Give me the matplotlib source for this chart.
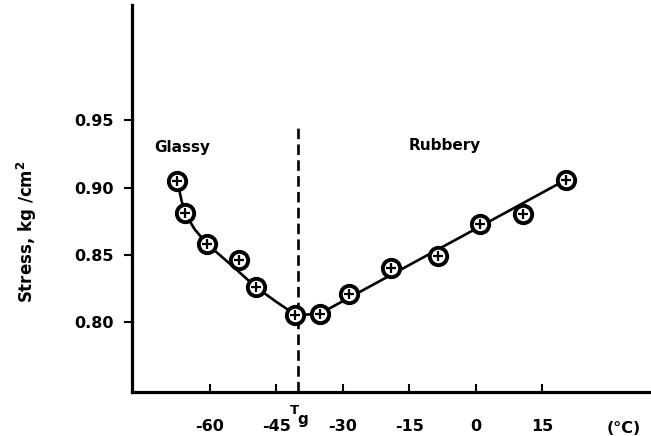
import matplotlib
matplotlib.use("Agg")
import matplotlib.pyplot as plt
import matplotlib.transforms as mtransforms

# Measured data points (temperature °C, stress kg/cm^2)
temp = [-67.3, -65.6, -60.6, -53.4, -49.6, -40.7, -35.2, -28.6, -19.0, -8.4, 1.0, 10.6, 20.5]
stress = [0.905, 0.881, 0.858, 0.846, 0.826, 0.805, 0.806, 0.821, 0.840, 0.849, 0.873, 0.880, 0.906]

# Hand-drawn fit curve
fit_temp = [-67.3, -66.4, -65.6, -63.4, -60.6, -55.0, -49.6, -45.0, -40.5, -35.2, 20.5]
fit_stress = [0.905, 0.891, 0.881, 0.869, 0.858, 0.842, 0.826, 0.815, 0.805, 0.806, 0.906]

tg = -40
xticks = [-60, -45, -30, -15, 0, 15]
yticks = [0.80, 0.85, 0.90, 0.95]
ytick_labels = ["0.80", "0.85", "0.90", "0.95"]

plt.rcParams['font.family'] = ['DejaVu Sans']
plt.rcParams['font.weight'] = 'bold'

fig = plt.figure(figsize=(6.51, 4.36), dpi=100)
ax = fig.add_axes([0.2023, 0.1016, 0.7977, 0.887])

ax.plot(fit_temp, fit_stress, color='black', lw=1.9, zorder=2)
ax.plot(temp, stress, linestyle='none', marker='o', ms=12.5, mfc='white',
        mec='black', mew=2.8, zorder=3)
ax.plot(temp, stress, linestyle='none', marker='+', ms=7, mec='black',
        mew=1.6, zorder=4)

ax.plot([tg, tg], [0.748, 0.9446], color='black', lw=1.9, dashes=(4, 2), zorder=1)

ax.set_xlim(-77.6, 39.6)
ax.set_ylim(0.748, 1.036)

for s in ['top', 'right']:
    ax.spines[s].set_visible(False)
for s in ['left', 'bottom']:
    ax.spines[s].set_linewidth(2.3)

ax.set_xticks(xticks)
ax.set_xticklabels([str(v) for v in xticks])
ax.set_yticks(yticks)
ax.set_yticklabels(ytick_labels)
ax.tick_params(axis='x', direction='in', length=6, width=1.5, pad=20, labelsize=11.5)
ax.tick_params(axis='y', direction='out', length=6, width=1.5, pad=7, labelsize=11.5)

ax.text(-72.4, 0.9296, 'Glassy', fontsize=11, fontweight='bold', va='center', ha='left')
ax.text(-15.0, 0.931, 'Rubbery', fontsize=11, fontweight='bold', va='center', ha='left')

trans = mtransforms.blended_transform_factory(ax.transData, fig.transFigure)
ax.text(33.5, 1 - 428 / 436, '(°C)', transform=trans, fontsize=11.5, fontweight='bold',
        ha='center', va='center')
ax.text(tg - 0.8, 1 - 410 / 436, 'T', transform=trans, fontsize=9.5, fontweight='bold',
        ha='center', va='center')
ax.text(tg + 1.0, 1 - 419 / 436, 'g', transform=trans, fontsize=11, fontweight='bold',
        ha='center', va='center')

fig.text(27 / 651, 1 - 232 / 436, 'Stress, kg /cm$^\\mathbf{2}$', rotation=90, fontsize=12,
         fontweight='bold', ha='center', va='center')

fig.savefig('out.png', dpi=100)
